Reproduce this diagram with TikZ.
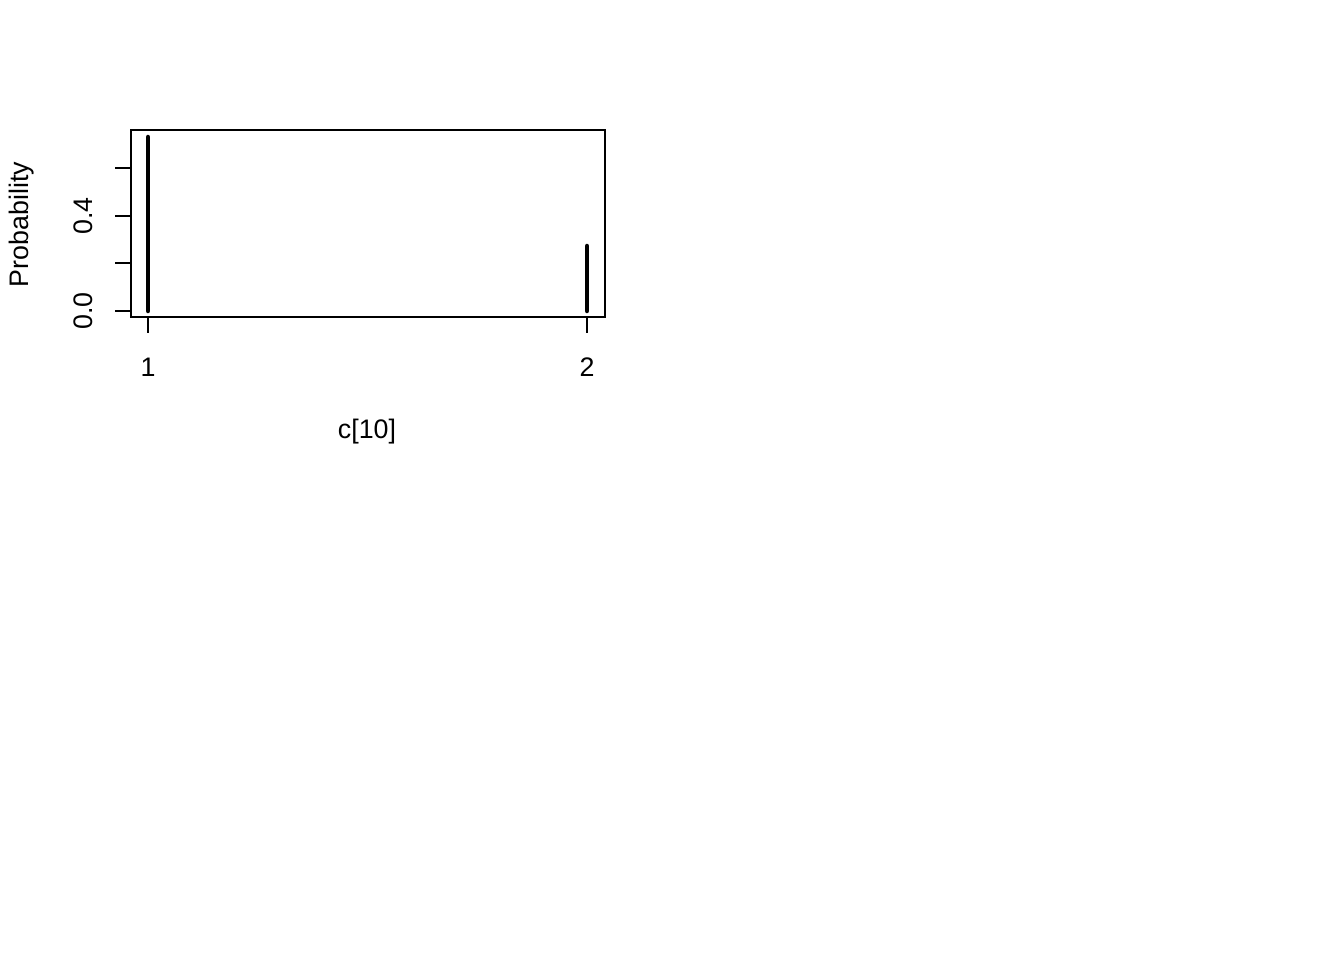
\documentclass[tikz,border=0pt]{standalone}
\usepackage{fontspec}
\setmainfont{Liberation Sans}
\begin{document}
\begin{tikzpicture}[x=1pt,y=-1pt,
  lbl/.style={inner sep=0pt,font=\fontsize{26.8}{30}\selectfont},
  axisline/.style={line width=2pt},
  bar/.style={line width=4.5pt,line cap=round}]
\useasboundingbox (0,0) rectangle (1344,960);
% frame
\draw[axisline] (131,130) rectangle (605,317);
% y axis ticks
\foreach \y in {311,263,216,168} \draw[axisline] (115,\y) -- (131,\y);
\node[lbl,rotate=90] (y0) at (83,311) {0.0};
\node[lbl,rotate=90] (y4) at (83,216) {0.4};
\node[lbl,rotate=90] (ylab) at (22,224.5) {Probability};
% x axis ticks
\foreach \x in {148,587} \draw[axisline] (\x,317) -- (\x,333);
\node[lbl] (x1) at (148,367) {1};
\node[lbl] (x2) at (587,367) {2};
\node[lbl] (xlab) at (367,432) {c[10]};
% bars
\coordinate (b1a) at (148,311); \coordinate (b1b) at (148,137);
\coordinate (b2a) at (587,311); \coordinate (b2b) at (587,246);
\draw[bar] (b1a) -- (b1b);
\draw[bar] (b2a) -- (b2b);
\end{tikzpicture}
\end{document}
